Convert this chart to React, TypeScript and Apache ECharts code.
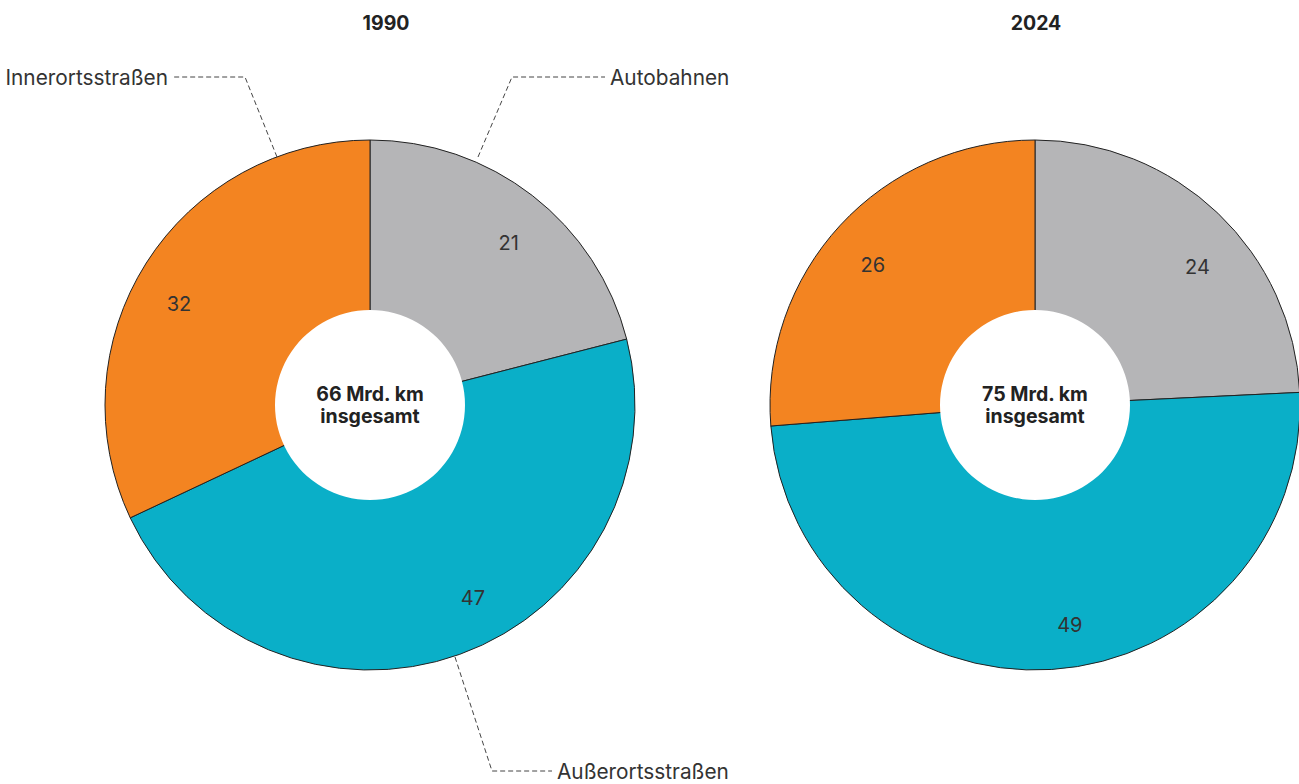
import React, { useEffect, useRef } from "react";
import * as echarts from "echarts";

const categories = ["Autobahnen", "Außerortsstraßen", "Innerortsstraßen"];
const colors = ["#b5b5b7", "#0aafc8", "#f38421"];
const years = ["1990", "2024"];
const values1990 = [21, 47, 32];
const values2024 = [24, 49, 26];
const totals = ["66 Mrd. km\ninsgesamt", "75 Mrd. km\ninsgesamt"];

// small per-slice nudges of the value labels (layout only)
const labelNudges = [
  [[5, 10], [29, -12], [-7, 16]],
  [[12, 20], [21, 2], [-2, 8]],
];

const FONT = "Inter, 'Noto Sans', sans-serif";

export default function App() {
  const ref = useRef<HTMLDivElement>(null);
  useEffect(() => {
    if (!ref.current) return;
    const chart = echarts.init(ref.current, undefined, { renderer: "svg" });
    const centers = [
      [370, 405],
      [1035, 405],
    ];
    const datasets = [values1990, values2024];
    const series: any[] = [];
    datasets.forEach((vals, i) => {
      const data = vals.map((v, j) => ({
        name: categories[j],
        value: v,
        itemStyle: { color: colors[j] },
      }));
      series.push({
        type: "pie",
        center: centers[i],
        radius: [0, 265],
        startAngle: 90,
        clockwise: true,
        silent: true,
        label: { show: false },
        labelLine: { show: false },
        itemStyle: { borderColor: "#222", borderWidth: 1 },
        data,
      });
      series.push({
        type: "pie",
        center: centers[i],
        radius: [170, 260],
        startAngle: 90,
        clockwise: true,
        silent: true,
        z: 3,
        itemStyle: { color: "rgba(0,0,0,0)", borderWidth: 0 },
        label: {
          show: true,
          position: "inside",
          formatter: "{c}",
          fontFamily: FONT,
          fontSize: 20,
          color: "#333",
        },
        labelLine: { show: false },
        data: vals.map((v, j) => ({
          name: categories[j],
          value: v,
          label: { offset: labelNudges[i][j] },
        })),
      });
      series.push({
        type: "pie",
        center: centers[i],
        radius: [0, 95],
        silent: true,
        z: 4,
        itemStyle: { color: "#fff", borderWidth: 0 },
        label: {
          show: true,
          position: "center",
          formatter: totals[i],
          fontFamily: FONT,
          fontSize: 19.5,
          fontWeight: "bold",
          lineHeight: 22,
          color: "#222",
        },
        labelLine: { show: false },
        data: [{ name: "total", value: 1 }],
      });
    });

    const dash = { stroke: "#444", lineWidth: 1, lineDash: [5, 3], fill: null };
    const labelStyle = { fontFamily: FONT, fontSize: 20.8, fill: "#333" };
    const titleStyle = { fontFamily: FONT, fontSize: 19.5, fontWeight: "bold", color: "#222" };

    chart.setOption({
      animation: false,
      title: [
        { text: years[0], left: 381, top: 8, textAlign: "center", textStyle: titleStyle },
        { text: years[1], left: 1031, top: 8, textAlign: "center", textStyle: titleStyle },
      ],
      series,
      graphic: [
        { type: "polyline", shape: { points: [[277, 157], [245, 77], [172, 77]] }, style: dash, z: 10 },
        { type: "polyline", shape: { points: [[478, 157], [512, 77], [605, 77]] }, style: dash, z: 10 },
        { type: "polyline", shape: { points: [[455, 657], [492, 771], [552, 771]] }, style: dash, z: 10 },
        { type: "text", x: 168, y: 77, style: { ...labelStyle, text: categories[2], textAlign: "right", textVerticalAlign: "middle" }, z: 10 },
        { type: "text", x: 610, y: 77, style: { ...labelStyle, text: categories[0], textAlign: "left", textVerticalAlign: "middle" }, z: 10 },
        { type: "text", x: 557, y: 771, style: { ...labelStyle, text: categories[1], textAlign: "left", textVerticalAlign: "middle" }, z: 10 },
      ],
    });
    return () => chart.dispose();
  }, []);
  return (
    <div
      ref={ref}
      style={{ position: "fixed", left: 0, top: 0, width: 1299, height: 784, background: "#fff" }}
    />
  );
}
